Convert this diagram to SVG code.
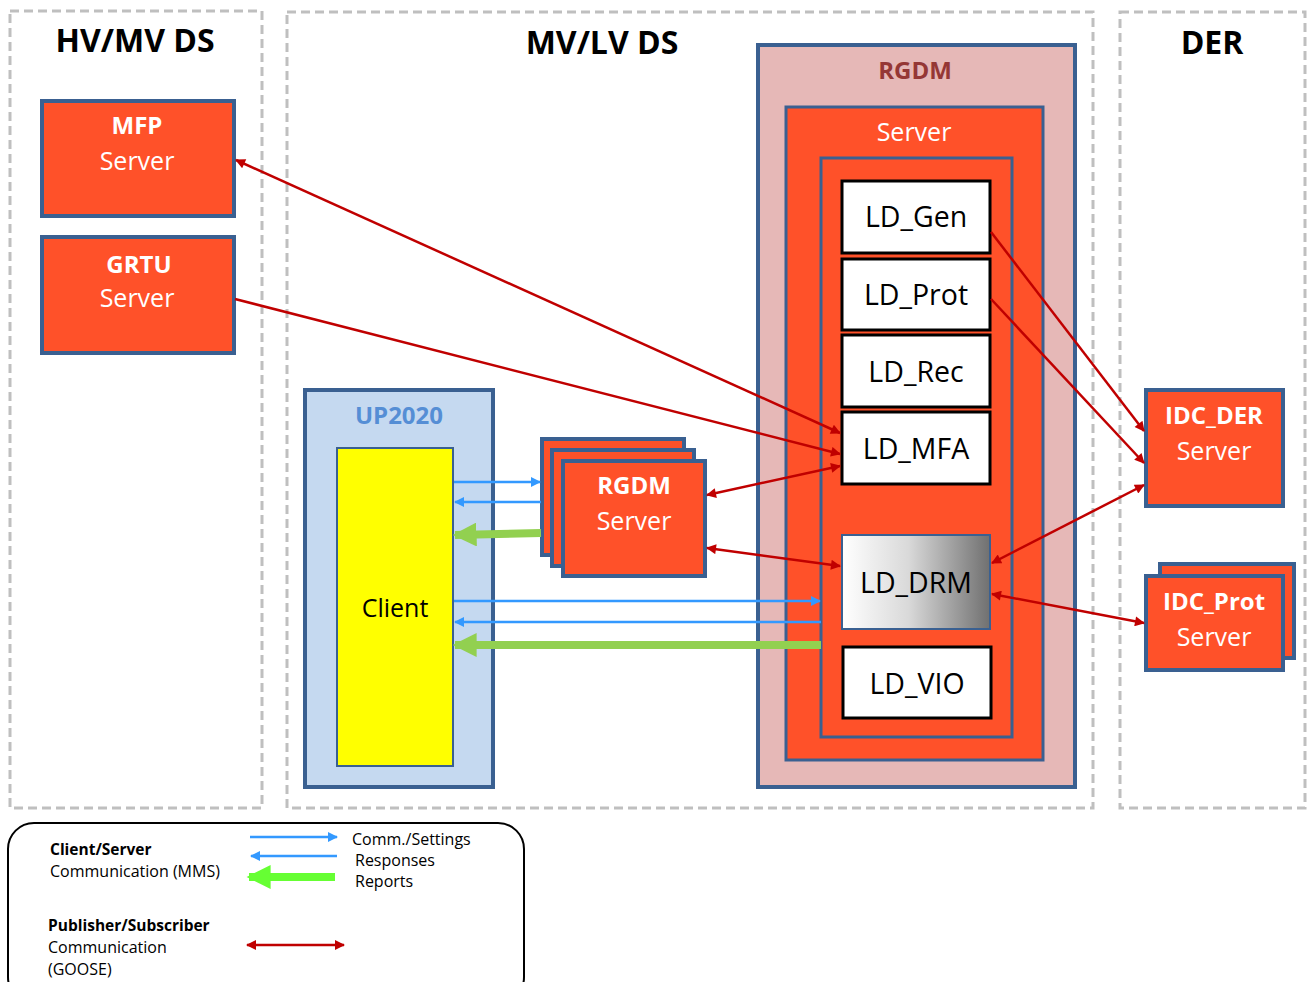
<svg xmlns="http://www.w3.org/2000/svg" width="1311" height="982" viewBox="0 0 1311 982">
<style>
text{font-family:"Open Sans","DejaVu Sans",sans-serif}
.zone{fill:none;stroke:#bfbfbf;stroke-width:3;stroke-dasharray:9 5}
.title{font-size:32px;font-weight:bold;fill:#000;text-anchor:middle}
.srv{fill:#ff5129;stroke:#3a6091;stroke-width:4}
.wb{font-size:24px;font-weight:bold;fill:#fff;text-anchor:middle}
.wn{font-size:25px;fill:#fff;text-anchor:middle}
.ld{fill:#fff;stroke:#000;stroke-width:3}
.ldt{font-size:28.5px;fill:#000;text-anchor:middle}
.red{stroke:#c00000;stroke-width:2.5;fill:none}
.blue{stroke:#3399ff;stroke-width:2.5;fill:none}
.green{stroke:#92d050;stroke-width:8;fill:none}
.lg{font-size:16px;fill:#000}
.lgb{font-size:15.5px;font-weight:bold;fill:#000}
</style>
<defs>
<marker id="ar" viewBox="0 0 10 10" refX="9" refY="5" markerWidth="14" markerHeight="10" markerUnits="userSpaceOnUse" orient="auto-start-reverse"><path d="M0,0 L10,5 L0,10 z" fill="#c00000"/></marker>
<marker id="ab" viewBox="0 0 10 10" refX="9" refY="5" markerWidth="13" markerHeight="10" markerUnits="userSpaceOnUse" orient="auto"><path d="M0,0 L10,5 L0,10 z" fill="#3399ff"/></marker>
<marker id="ag" viewBox="0 0 10 10" refX="9" refY="5" markerWidth="24" markerHeight="24" markerUnits="userSpaceOnUse" orient="auto"><path d="M0,0 L10,5 L0,10 z" fill="#92d050"/></marker>
<marker id="agl" viewBox="0 0 10 10" refX="9" refY="5" markerWidth="28" markerHeight="24" markerUnits="userSpaceOnUse" orient="auto"><path d="M0,0 L10,5 L0,10 z" fill="#66ff33"/></marker>
<linearGradient id="drm" x1="0" y1="0" x2="1" y2="0"><stop offset="0" stop-color="#ffffff"/><stop offset="0.45" stop-color="#d9d9d9"/><stop offset="1" stop-color="#707070"/></linearGradient>
</defs>
<rect width="1311" height="982" fill="#fff"/>

<g id="zone-hvmv"><rect class="zone" x="10" y="11" width="252" height="797"/><text class="title" x="135" y="52">HV/MV DS</text></g>
<g id="zone-mvlv"><rect class="zone" x="287" y="12" width="806" height="796"/><text class="title" x="602" y="54">MV/LV DS</text></g>
<g id="zone-der"><rect class="zone" x="1120" y="12" width="185" height="796"/><text class="title" x="1212" y="54">DER</text></g>

<g id="mfp"><rect class="srv" x="42" y="101" width="192" height="115"/><text class="wb" x="137" y="134">MFP</text><text class="wn" x="137" y="170">Server</text></g>
<g id="grtu"><rect class="srv" x="42" y="237" width="192" height="116"/><text class="wb" x="139" y="273">GRTU</text><text class="wn" x="137" y="307">Server</text></g>

<g id="up2020"><rect x="305" y="390" width="188" height="397" fill="#c5d9f0" stroke="#3a6091" stroke-width="4"/><text x="399" y="424" font-size="24" font-weight="bold" fill="#558ed5" text-anchor="middle">UP2020</text></g>
<g id="client"><rect x="337" y="448" width="116" height="318" fill="#ffff00" stroke="#3a6091" stroke-width="2"/><text x="395" y="617" font-size="25" fill="#000" text-anchor="middle">Client</text></g>

<g id="rgdm-stack"><rect class="srv" x="542" y="439" width="142" height="116"/><rect class="srv" x="552" y="450" width="142" height="116"/><rect class="srv" x="563" y="461" width="142" height="115"/><text class="wb" x="634" y="494">RGDM</text><text class="wn" x="634" y="530">Server</text></g>

<g id="rgdm"><rect x="758" y="45" width="317" height="742" fill="#e6b8b7" stroke="#3a6091" stroke-width="4"/><text x="915" y="79" font-size="24" font-weight="bold" fill="#953735" text-anchor="middle">RGDM</text></g>
<g id="rgdm-server"><rect x="786" y="107" width="257" height="653" fill="#ff5129" stroke="#3a6091" stroke-width="3"/><text class="wn" x="914" y="141">Server</text><rect x="821" y="158" width="191" height="579" fill="#ff5129" stroke="#3a6091" stroke-width="3"/></g>

<g id="ld-gen"><rect class="ld" x="842" y="181" width="148" height="72"/><text class="ldt" x="916" y="227">LD_Gen</text></g>
<g id="ld-prot"><rect class="ld" x="842" y="259" width="148" height="71"/><text class="ldt" x="916" y="305">LD_Prot</text></g>
<g id="ld-rec"><rect class="ld" x="842" y="335" width="148" height="72"/><text class="ldt" x="916" y="382">LD_Rec</text></g>
<g id="ld-mfa"><rect class="ld" x="842" y="412" width="148" height="72"/><text class="ldt" x="916" y="459">LD_MFA</text></g>
<g id="ld-drm"><rect x="842" y="535" width="148" height="94" fill="url(#drm)" stroke="#3a6091" stroke-width="2"/><text class="ldt" x="916" y="593">LD_DRM</text></g>
<g id="ld-vio"><rect class="ld" x="843" y="647" width="148" height="71"/><text class="ldt" x="917" y="694">LD_VIO</text></g>

<g id="idc-der"><rect class="srv" x="1146" y="390" width="137" height="116" stroke-width="3"/><text class="wb" x="1214" y="424">IDC_DER</text><text class="wn" x="1214" y="460">Server</text></g>
<g id="idc-prot"><rect class="srv" x="1160" y="564" width="134" height="94" stroke-width="3"/><rect class="srv" x="1146" y="576" width="137" height="94" stroke-width="3"/><text class="wb" x="1214" y="610">IDC_Prot</text><text class="wn" x="1214" y="646">Server</text></g>

<g id="connectors">
<line class="red" x1="236" y1="160" x2="840" y2="433" marker-start="url(#ar)" marker-end="url(#ar)"/>
<line class="red" x1="235" y1="299" x2="840" y2="454" marker-end="url(#ar)"/>
<line class="red" x1="707" y1="495" x2="840" y2="466" marker-start="url(#ar)" marker-end="url(#ar)"/>
<line class="red" x1="707" y1="548" x2="840" y2="566" marker-start="url(#ar)" marker-end="url(#ar)"/>
<line class="red" x1="991" y1="232" x2="1144" y2="431" marker-end="url(#ar)"/>
<line class="red" x1="991" y1="299" x2="1144" y2="463" marker-end="url(#ar)"/>
<line class="red" x1="992" y1="563" x2="1144" y2="485" marker-start="url(#ar)" marker-end="url(#ar)"/>
<line class="red" x1="992" y1="594" x2="1144" y2="623" marker-start="url(#ar)" marker-end="url(#ar)"/>
<line class="blue" x1="454" y1="482" x2="540" y2="482" marker-end="url(#ab)"/>
<line class="blue" x1="541" y1="502" x2="455" y2="502" marker-end="url(#ab)"/>
<line class="green" x1="541" y1="533" x2="455" y2="535" marker-end="url(#ag)"/>
<line class="blue" x1="454" y1="601" x2="820" y2="601" marker-end="url(#ab)"/>
<line class="blue" x1="821" y1="622" x2="455" y2="622" marker-end="url(#ab)"/>
<line class="green" x1="821" y1="645" x2="455" y2="645" marker-end="url(#ag)"/>
</g>

<g id="legend">
<rect x="8" y="823" width="516" height="180" rx="26" fill="#fff" stroke="#000" stroke-width="2"/>
<text class="lgb" x="50" y="855">Client/Server</text>
<text class="lg" x="50" y="877">Communication (MMS)</text>
<text class="lgb" x="48" y="931">Publisher/Subscriber</text>
<text class="lg" x="48" y="953">Communication</text>
<text class="lg" x="48" y="975">(GOOSE)</text>
<line class="blue" x1="250" y1="837" x2="337" y2="837" marker-end="url(#ab)"/>
<line class="blue" x1="337" y1="856" x2="251" y2="856" marker-end="url(#ab)"/>
<line x1="335" y1="877" x2="249" y2="877" stroke="#66ff33" stroke-width="8" marker-end="url(#agl)"/>
<line class="red" x1="247" y1="945" x2="344" y2="945" marker-start="url(#ar)" marker-end="url(#ar)"/>
<text class="lg" x="352" y="845">Comm./Settings</text>
<text class="lg" x="355" y="866">Responses</text>
<text class="lg" x="355" y="887">Reports</text>
</g>
</svg>
